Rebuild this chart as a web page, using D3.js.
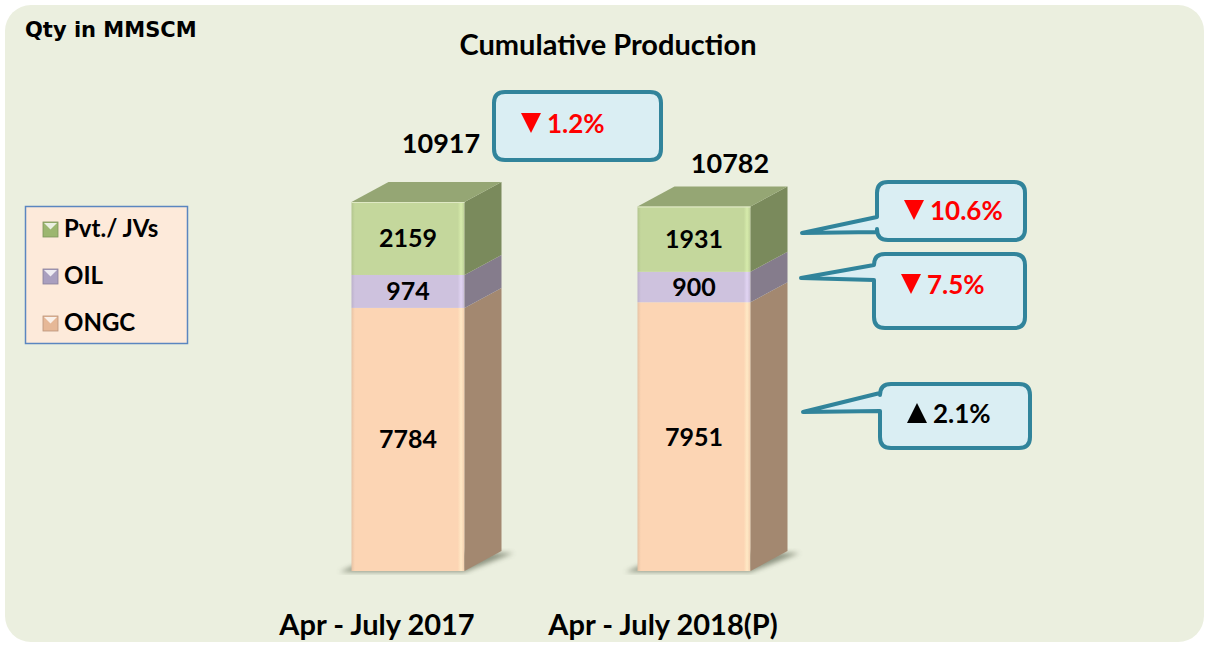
<!DOCTYPE html>
<html><head><meta charset="utf-8">
<script src="https://cdn.jsdelivr.net/npm/d3@7"></script>
<style>html,body{margin:0;padding:0;background:#fff;}svg{display:block;}</style>
</head><body>
<svg id="chart" width="1209" height="645"></svg>
<script>
// ---- data ----
const categories = ["Apr - July 2017", "Apr - July 2018(P)"];
const seriesNames = ["ONGC", "OIL", "Pvt./ JVs"];
const ongc = [7784, 7951];
const oil = [974, 900];
const pvt = [2159, 1931];
const totals = [10917, 10782];
const totalChange = "1.2%";
const totalDir = "down";
const seriesChange = ["2.1%", "7.5%", "10.6%"]; // ONGC, OIL, Pvt./ JVs
const seriesDir = ["up", "down", "down"];
const chartTitle = "Cumulative Production";
const unitLabel = "Qty in MMSCM";

// ---- style ----
const FONT = "Lato, 'Open Sans', sans-serif";
const frontCol = {"ONGC": "#FCD5B4", "OIL": "#CEC2DE", "Pvt./ JVs": "#C4D79C"};
const sideCol = {"ONGC": "#A38870", "OIL": "#857C8C", "Pvt./ JVs": "#7A8A5C"};
const topCol = "#95A674";
const legendIcon = {"ONGC": "#E6B897", "OIL": "#A99FBF", "Pvt./ JVs": "#9CB66F"};

const svg = d3.select("#chart");
const defs = svg.append("defs");
defs.append("filter").attr("id", "blur").append("feGaussianBlur").attr("stdDeviation", 2.5);

// panel background
svg.append("rect").attr("x", 5).attr("y", 5).attr("width", 1199).attr("height", 637)
  .attr("rx", 26).attr("fill", "#EBEFDF");

const rows = categories.map((c, i) => ({cat: c, "ONGC": ongc[i], "OIL": oil[i], "Pvt./ JVs": pvt[i]}));
const stacked = d3.stack().keys(seriesNames)(rows);

const x = d3.scalePoint().domain(categories).range([408, 694]);
const y = d3.scaleLinear().domain([0, d3.max(totals)]).range([571, 202]);
const barW = 113, dx = 37, dy = -20;

// gradients for bevel look
seriesNames.forEach((s, k) => {
  const g = defs.append("linearGradient").attr("id", "g" + k).attr("x1", 0).attr("x2", 1).attr("y1", 0).attr("y2", 0);
  const c = d3.color(frontCol[s]);
  [[0, c.darker(0.25)], [0.03, c], [0.94, c], [0.97, c.brighter(0.25)], [1, c.darker(0.1)]].forEach(([o, col]) =>
    g.append("stop").attr("offset", o).attr("stop-color", col));
});

// shadows
categories.forEach(c => {
  const xl = x(c) - barW / 2, xr = x(c) + barW / 2, yb = y(0);
  svg.append("polygon")
    .attr("points", [[xl - 12, yb + 1], [xr, yb + 1], [xr + dx + 12, yb + dy + 2], [xl + dx, yb + dy]].map(p => p.join(",")).join(" "))
    .attr("fill", "#6f7764").attr("opacity", 0.75).attr("filter", "url(#blur)");
});

// bars
stacked.forEach((layer, k) => {
  const s = layer.key;
  const g = svg.append("g");
  layer.forEach((d, i) => {
    const c = categories[i];
    const xl = x(c) - barW / 2, xr = x(c) + barW / 2;
    const y0 = y(d[0]), y1 = y(d[1]);
    g.append("rect").attr("x", xl).attr("y", y1).attr("width", barW).attr("height", y0 - y1)
      .attr("fill", `url(#g${k})`);
    g.append("polygon")
      .attr("points", [[xr, y1], [xr + dx, y1 + dy], [xr + dx, y0 + dy], [xr, y0]].map(p => p.join(",")).join(" "))
      .attr("fill", sideCol[s]);
    if (k === seriesNames.length - 1) {
      g.append("polygon")
        .attr("points", [[xl, y1], [xl + dx, y1 + dy], [xr + dx, y1 + dy], [xr, y1]].map(p => p.join(",")).join(" "))
        .attr("fill", topCol);
      g.append("line").attr("x1", xl).attr("x2", xr).attr("y1", y1 + 0.5).attr("y2", y1 + 0.5)
        .attr("stroke", "#dfe9c4").attr("stroke-width", 1);
    }
    g.append("text").attr("x", x(c)).attr("y", (y0 + y1) / 2).attr("dy", "0.36em")
      .attr("text-anchor", "middle").attr("font-family", FONT).attr("font-weight", 700)
      .attr("font-size", 25).attr("fill", "#000").text(d.data[s]);
  });
});

// totals
const totalOffset = [[33, -49], [36, -34]];
categories.forEach((c, i) => {
  svg.append("text").attr("x", x(c) + totalOffset[i][0]).attr("y", y(totals[i]) + dy + 20 + totalOffset[i][1])
    .attr("text-anchor", "middle").attr("font-family", FONT).attr("font-weight", 700)
    .attr("font-size", 27).attr("fill", "#000").text(totals[i]);
});

// category labels
categories.forEach(c => {
  svg.append("text").attr("x", x(c) - 31).attr("y", 635).attr("text-anchor", "middle")
    .attr("font-family", FONT).attr("font-weight", 700).attr("font-size", 29).attr("fill", "#000").text(c);
});

// title & unit
svg.append("text").attr("x", 608).attr("y", 55).attr("text-anchor", "middle")
  .attr("font-family", FONT).attr("font-weight", 700).attr("font-size", 29).attr("fill", "#000").text(chartTitle);
svg.append("text").attr("x", 25).attr("y", 37)
  .attr("font-family", "'DejaVu Sans', sans-serif").attr("font-weight", 700).attr("font-size", 21).attr("fill", "#000").text(unitLabel);

// legend
const lg = svg.append("g");
lg.append("rect").attr("x", 25.5).attr("y", 206.5).attr("width", 162).attr("height", 137)
  .attr("fill", "#FDEADA").attr("stroke", "#5B86C0").attr("stroke-width", 1.5);
const legendOrder = seriesNames.slice().reverse();
legendOrder.forEach((s, j) => {
  const cy = 230 + j * 47;
  const ix = 43, iy = cy - 8, sz = 15;
  lg.append("rect").attr("x", ix).attr("y", iy).attr("width", sz).attr("height", sz)
    .attr("fill", legendIcon[s]).attr("stroke", d3.color(legendIcon[s]).darker(0.6)).attr("stroke-width", 0.8);
  lg.append("polygon").attr("points", [[ix + 1, iy + 1], [ix + sz - 1, iy + 1], [ix + sz / 2, iy + sz / 2]].map(p => p.join(",")).join(" "))
    .attr("fill", "#ffffff").attr("opacity", 0.8);
  lg.append("text").attr("x", 64).attr("y", cy + 7).attr("font-family", FONT).attr("font-weight", 700)
    .attr("font-size", 24).attr("fill", "#000").text(s);
});

// callouts
function calloutPath(b) {
  const r = 11, x0 = b.x, y0 = b.y, x1 = b.x + b.w, y1 = b.y + b.h;
  let p = `M${x0 + r},${y0} H${x1 - r} Q${x1},${y0} ${x1},${y0 + r} V${y1 - r} Q${x1},${y1} ${x1 - r},${y1} H${x0 + r} Q${x0},${y1} ${x0},${y1 - r}`;
  if (b.tip) p += ` V${b.pb} L${b.tip[0]},${b.tip[1]} L${x0},${b.pa}`;
  p += ` V${y0 + r} Q${x0},${y0} ${x0 + r},${y0} Z`;
  return p;
}
const callouts = [
  {x: 494, y: 92, w: 167, h: 68, base: 133, label: totalChange, dir: totalDir},
  {x: 877, y: 182, w: 148, h: 58, base: 220, tip: [802, 233], pa: 217, pb: 232, label: seriesChange[2], dir: seriesDir[2]},
  {x: 874, y: 254, w: 151, h: 74, base: 294, tip: [801, 278], pa: 265, pb: 280, label: seriesChange[1], dir: seriesDir[1]},
  {x: 880, y: 384, w: 150, h: 64, base: 423, tip: [803, 412], pa: 393, pb: 411, label: seriesChange[0], dir: seriesDir[0]}
];
callouts.forEach(b => {
  const g = svg.append("g");
  g.append("path").attr("d", calloutPath(b)).attr("fill", "#DAEEF3").attr("stroke", "#31849B")
    .attr("stroke-width", 4).attr("stroke-linejoin", "round");
  const col = b.dir === "down" ? "#FF0000" : "#000000";
  const tx = b.x + 27, tb = b.base;
  const tri = b.dir === "down"
    ? [[tx, tb - 20], [tx + 20, tb - 20], [tx + 10, tb]]
    : [[tx + 10, tb - 20], [tx + 20, tb], [tx, tb]];
  g.append("polygon").attr("points", tri.map(p => p.join(",")).join(" ")).attr("fill", col);
  g.append("text").attr("x", tx + 26).attr("y", tb).attr("font-family", FONT).attr("font-weight", 700)
    .attr("font-size", 26).attr("fill", col).text(b.label);
});
</script>
</body></html>
